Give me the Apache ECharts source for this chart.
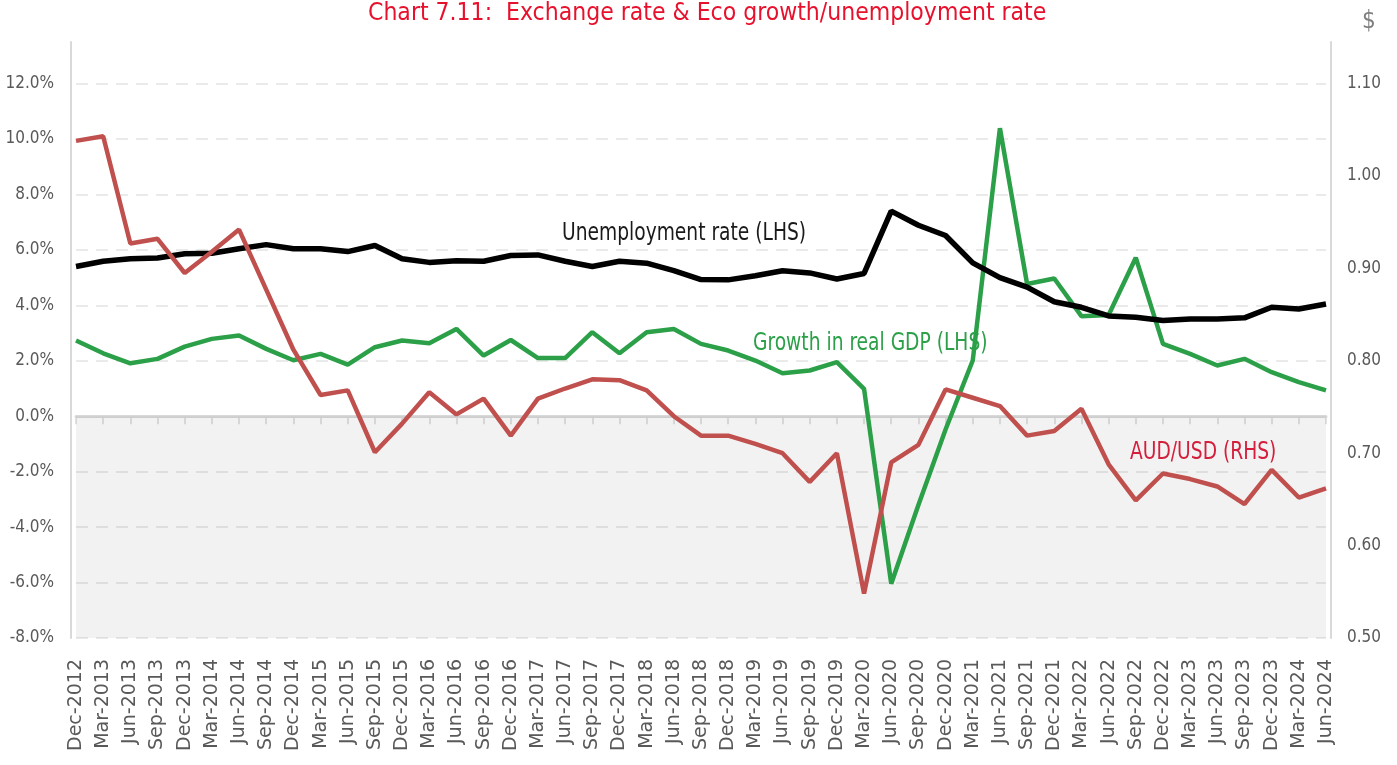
<!DOCTYPE html>
<html>
<head>
<meta charset="utf-8">
<script src="https://cdn.jsdelivr.net/npm/echarts@6/dist/echarts.min.js"></script>
<style>
  html, body { margin: 0; padding: 0; background: #fff; }
  #chart { width: 1397px; height: 765px; }
</style>
</head>
<body>
<div id="chart"></div>
<script>
// quarters, Dec-2012 .. Jun-2024
const categories = [
  'Dec-2012', 'Mar-2013', 'Jun-2013', 'Sep-2013', 'Dec-2013', 'Mar-2014', 'Jun-2014', 'Sep-2014',
  'Dec-2014', 'Mar-2015', 'Jun-2015', 'Sep-2015', 'Dec-2015', 'Mar-2016', 'Jun-2016', 'Sep-2016',
  'Dec-2016', 'Mar-2017', 'Jun-2017', 'Sep-2017', 'Dec-2017', 'Mar-2018', 'Jun-2018', 'Sep-2018',
  'Dec-2018', 'Mar-2019', 'Jun-2019', 'Sep-2019', 'Dec-2019', 'Mar-2020', 'Jun-2020', 'Sep-2020',
  'Dec-2020', 'Mar-2021', 'Jun-2021', 'Sep-2021', 'Dec-2021', 'Mar-2022', 'Jun-2022', 'Sep-2022',
  'Dec-2022', 'Mar-2023', 'Jun-2023', 'Sep-2023', 'Dec-2023', 'Mar-2024', 'Jun-2024'
]

// LHS, %
const unemployment = [
  5.40, 5.59, 5.68, 5.71, 5.86, 5.88, 6.04, 6.19,
  6.04, 6.04, 5.94, 6.16, 5.68, 5.55, 5.61, 5.59,
  5.80, 5.82, 5.59, 5.40, 5.59, 5.52, 5.25, 4.93,
  4.92, 5.07, 5.25, 5.17, 4.95, 5.15, 7.40, 6.89,
  6.52, 5.53, 5.00, 4.66, 4.13, 3.93, 3.62, 3.57,
  3.45, 3.51, 3.51, 3.55, 3.93, 3.87, 4.05
]

// LHS, %
const gdpGrowth = [
  2.73, 2.27, 1.91, 2.07, 2.51, 2.79, 2.91, 2.43,
  2.02, 2.25, 1.86, 2.49, 2.73, 2.63, 3.15, 2.19,
  2.75, 2.10, 2.10, 3.03, 2.27, 3.03, 3.15, 2.61,
  2.37, 2.01, 1.55, 1.65, 1.95, 0.99, -6.04, -3.20,
  -0.48, 2.01, 10.39, 4.77, 4.97, 3.61, 3.65, 5.72,
  2.61, 2.25, 1.83, 2.07, 1.59, 1.23, 0.93
]

// RHS, US$ per A$
const audUsd = [
  1.038, 1.043, 0.927, 0.932, 0.895, 0.918, 0.942, 0.877,
  0.812, 0.763, 0.768, 0.701, 0.732, 0.766, 0.742, 0.759,
  0.719, 0.759, 0.770, 0.780, 0.779, 0.768, 0.740, 0.719,
  0.719, 0.710, 0.700, 0.669, 0.700, 0.548, 0.690, 0.709,
  0.769, 0.760, 0.751, 0.719, 0.724, 0.748, 0.688, 0.649,
  0.678, 0.672, 0.664, 0.645, 0.682, 0.652, 0.662
]

const narrow = "'Liberation Sans Narrow', 'DejaVu Sans Condensed', 'Roboto Condensed', sans-serif"
const grey = '#595959'

const myChart = echarts.init(document.getElementById('chart'))

const option = {
  animation: false,
  title: {
    text: 'Chart 7.11:  Exchange rate & Eco growth/unemployment rate',
    left: 368,
    top: 1,
    padding: 0,
    textStyle: { color: '#e8112d', fontFamily: narrow, fontSize: 24.5, fontWeight: 'normal' }
  },
  grid: { left: 76, right: 71, top: 42, bottom: 127 },
  xAxis: [
    {
      // labels along the bottom
      type: 'category',
      data: categories,
      boundaryGap: false,
      position: 'bottom',
      axisLine: { show: false, onZero: false },
      axisTick: { show: false },
      axisLabel: { interval: 0, rotate: 90, margin: 21, color: grey, fontFamily: 'DejaVu Sans', fontSize: 19 }
    },
    {
      // zero line with tick marks
      type: 'category',
      data: categories,
      boundaryGap: false,
      position: 'bottom',
      axisLine: { show: true, onZero: true, onZeroAxisIndex: 0, lineStyle: { color: '#d9d9d9', width: 3 } },
      axisTick: { show: true, interval: 0, length: 8, lineStyle: { color: '#d9d9d9', width: 1.5 } },
      axisLabel: { show: false },
      splitLine: { show: false }
    }
  ],
  yAxis: [
    {
      type: 'value',
      min: -8,
      max: 13.5,
      interval: 2,
      offset: 5,
      axisLine: { show: true, lineStyle: { color: '#d9d9d9', width: 2 } },
      axisTick: { show: false },
      axisLabel: {
        margin: 17,
        showMaxLabel: false,
        color: grey,
        fontFamily: narrow,
        fontSize: 17,
        formatter: v => v.toFixed(1) + '%'
      },
      splitLine: {
        show: true,
        showMaxLine: false,
        lineStyle: { color: '#e3e3e3', width: 1.5, type: [12, 8] }
      }
    },
    {
      type: 'value',
      min: 0.5,
      max: 1.145,
      interval: 0.1,
      offset: 5,
      name: '$',
      nameLocation: 'end',
      nameGap: 8,
      nameTextStyle: { color: '#7f7f7f', fontFamily: narrow, fontSize: 24, align: 'left', padding: [0, 0, 0, 31] },
      axisLine: { show: true, lineStyle: { color: '#d9d9d9', width: 2 } },
      axisTick: { show: false },
      axisLabel: {
        margin: 16,
        showMaxLabel: false,
        color: grey,
        fontFamily: narrow,
        fontSize: 17,
        formatter: v => v.toFixed(2)
      },
      splitLine: { show: false }
    }
  ],
  // series captions inside the plot, squeezed a little to match the narrow face
  graphic: [
    {
      type: 'text', x: 562, y: 233, scaleX: 0.83,
      style: { text: 'Unemployment rate (LHS)', fill: '#1a1a1a', font: '25px ' + narrow, verticalAlign: 'middle', textVerticalAlign: 'middle' }
    },
    {
      type: 'text', x: 753, y: 343, scaleX: 0.83,
      style: { text: 'Growth in real GDP (LHS)', fill: '#2ca048', font: '25px ' + narrow, verticalAlign: 'middle', textVerticalAlign: 'middle' }
    },
    {
      type: 'text', x: 1130, y: 452, scaleX: 0.83,
      style: { text: 'AUD/USD (RHS)', fill: '#e0203f', font: '25px ' + narrow, verticalAlign: 'middle', textVerticalAlign: 'middle' }
    }
  ],
  series: [
    {
      // grey band below zero
      type: 'line',
      data: [],
      yAxisIndex: 0,
      z: 1,
      silent: true,
      markArea: {
        silent: true,
        itemStyle: { color: 'rgba(0,0,0,0.05)' },
        data: [[{ yAxis: -8 }, { yAxis: 0 }]]
      }
    },
    {
      name: 'Growth in real GDP (LHS)',
      type: 'line',
      data: gdpGrowth,
      yAxisIndex: 0,
      symbol: 'none',
      lineStyle: { color: '#2ca048', width: 4.5 }
    },
    {
      name: 'Unemployment rate (LHS)',
      type: 'line',
      data: unemployment,
      yAxisIndex: 0,
      symbol: 'none',
      lineStyle: { color: '#000000', width: 5.5 }
    },
    {
      name: 'AUD/USD (RHS)',
      type: 'line',
      data: audUsd,
      yAxisIndex: 1,
      symbol: 'none',
      lineStyle: { color: '#c0504d', width: 4.5 }
    }
  ]
}

myChart.setOption(option)
</script>
</body>
</html>
